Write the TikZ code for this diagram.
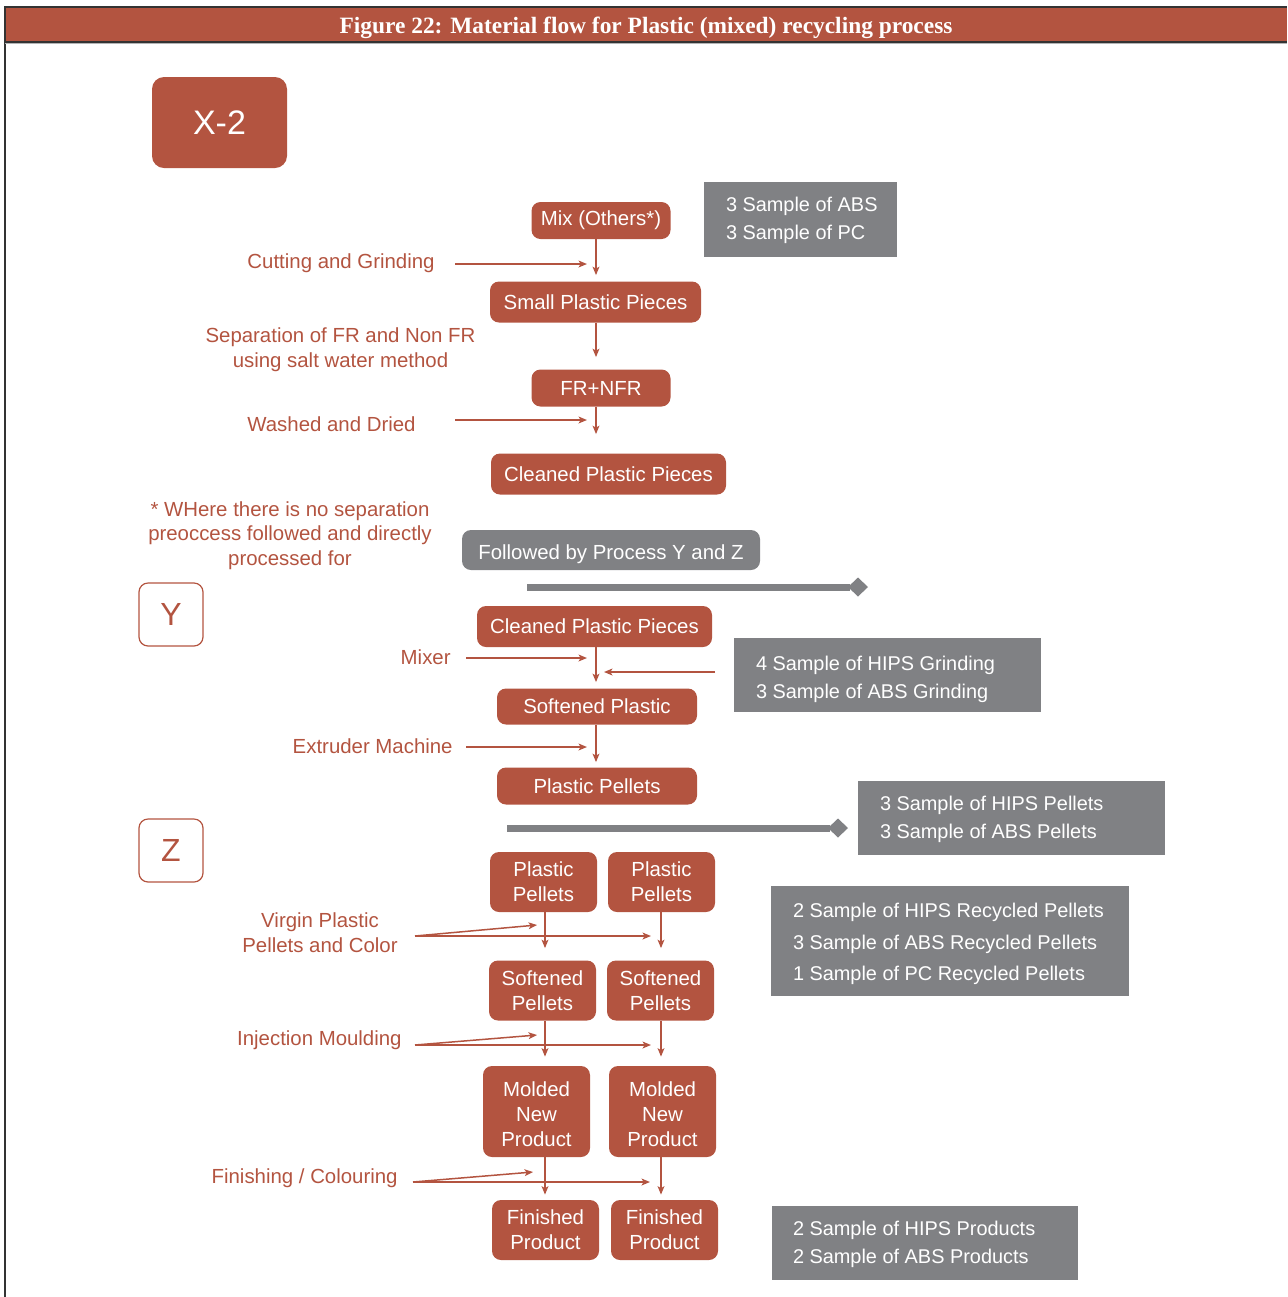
\documentclass[tikz,border=0pt]{standalone}
\usepackage{fontspec}
\setmainfont{Liberation Sans}
\newfontfamily\titlefont{Liberation Serif}
\usetikzlibrary{arrows.meta}
\definecolor{brick}{HTML}{B35440}
\definecolor{slate}{HTML}{808184}
\definecolor{framegray}{HTML}{333333}

\begin{document}
\begin{tikzpicture}[x=0.5pt,y=-0.5pt,
  every node/.style={font=\fontsize{10.2}{12.5}\selectfont, inner sep=0pt},
  sz/.style 2 args={minimum width=#1*0.5pt, minimum height=#2*0.5pt},
  stepbox/.style={fill=brick, text=white, rounded corners=4.5pt, align=center},
  samplebox/.style={fill=slate},
  sampletext/.style={text=white, align=left, anchor=west,
    font=\fontsize{9.95}{14}\selectfont},
  lbl/.style={text=brick, align=center},
  arr/.style={draw=brick, line width=0.75pt, -{Stealth[length=4.2pt,width=3.4pt,inset=1pt]}},
  bar/.style={draw=slate, line width=3.5pt},
  stage/.style={draw=brick, line width=0.6pt, rounded corners=4.5pt, text=brick,
    font=\fontsize{16}{18}\selectfont},
]
\useasboundingbox (0,0) rectangle (1287,1297);

% frame and title bar
\fill[brick] (5,7) rectangle (1287,42);
\draw[framegray, line width=1pt] (5,1297) -- (5,6.5) -- (1287,6.5);
\draw[framegray, line width=1pt] (5,41.5) -- (1287,41.5);
\draw[slate!60, line width=0.5pt] (5,43) -- (1287,43);
\node[text=white, font=\titlefont\bfseries\fontsize{11.7}{13}\selectfont] (title) at (646,27.5)
  {Figure 22: Material flow for Plastic (mixed) recycling process};

% stage marks
\node[fill=brick, text=white, rounded corners=6pt, sz={135}{91},
  font=\fontsize{17}{19}\selectfont] (x2) at (219.5,122.5) {X-2};
\node[stage, sz={64}{63}] (ystage) at (171,614.5) {Y};
\node[stage, sz={64}{63}] (zstage) at (171,850.5) {Z};

% columns
\coordinate (colA) at (596,0);
\coordinate (colL) at (545,0);
\coordinate (colR) at (661,0);

% ---- X-2 chain
\node[stepbox, sz={139}{37}] (mix) at (601,220.5) {Mix (Others*)};
\node[stepbox, sz={211}{41}] (small) at (595.5,302) {Small Plastic Pieces};
\node[stepbox, sz={139}{37}] (frnfr) at (601,388) {FR+NFR};
\node[stepbox, sz={235}{41}] (clean) at (608.5,474) {Cleaned Plastic Pieces};

\node[samplebox, sz={193}{75}] (s1) at (800.5,219.5) {};
\node[sampletext] (s1t) at ([xshift=11pt,yshift=-0.5pt]s1.west) {3 Sample of ABS\\3 Sample of PC};

\draw[arr, shorten >=3pt] (mix.south -| colA) -- (small.north -| colA);
\draw[arr, shorten >=6pt] (small.south -| colA) -- (frnfr.north -| colA);
\draw[arr, shorten >=9.5pt] (frnfr.south -| colA) -- (clean.north -| colA);

\node[lbl, anchor=east] (cut) at (435,263) {Cutting and Grinding};
\node[lbl] (sep) at (340.5,350) {Separation of FR and Non FR\\using salt water method};
\node[lbl, anchor=east] (wash) at (416,424.5) {Washed and Dried};
\coordinate (cutS) at (455,264);
\coordinate (washS) at (455,420);
\draw[arr, shorten >=4.5pt] (cutS) -- (cutS -| colA);
\draw[arr, shorten >=4.5pt] (washS) -- (washS -| colA);

\node[lbl, font=\fontsize{10.2}{12.25}\selectfont] (note) at (290,535.5)
  {* WHere there is no separation\\preoccess followed and directly\\processed for};

\node[fill=slate, rounded corners=4.5pt, sz={298}{40}] (follow) at (611,550) {};
\node[text=white] (followt) at ([yshift=-2pt]follow.center) {Followed by Process Y and Z};

% ---- Y chain
\draw[bar] (527,587) -- (850,587);
\fill[slate] (858,577.5) -- (868,587) -- (858,596.5) -- (848,587) -- cycle;

\node[stepbox, sz={235}{41}] (clean2) at (594.5,626.5) {Cleaned Plastic Pieces};
\node[stepbox, sz={200}{36}] (soft) at (597,706.5) {Softened Plastic};
\node[stepbox, sz={200}{37}] (pell) at (597,786) {Plastic Pellets};

\node[samplebox, sz={307}{74}] (s2) at (887.5,675) {};
\node[sampletext] (s2t) at ([xshift=11pt,yshift=-2pt]s2.west)
  {4 Sample of HIPS Grinding\\3 Sample of ABS Grinding};

\draw[arr, shorten >=3pt] (clean2.south -| colA) -- (soft.north -| colA);
\draw[arr, shorten >=2.5pt] (soft.south -| colA) -- (pell.north -| colA);

\node[lbl, anchor=east] (mixer) at (451,657.5) {Mixer};
\node[lbl, anchor=east] (extr) at (453,746.5) {Extruder Machine};
\coordinate (mixS) at (466,658);
\coordinate (extrS) at (466,747);
\coordinate (addS) at (715,672);
\draw[arr, shorten >=4.5pt] (mixS) -- (mixS -| colA);
\draw[arr, shorten >=4.5pt] (extrS) -- (extrS -| colA);
\draw[arr, shorten >=4pt] (addS) -- (addS -| colA);

% ---- Z chains
\node[samplebox, sz={307}{74}] (s3) at (1011.5,818) {};
\node[sampletext] (s3t) at ([xshift=11pt,yshift=-0.5pt]s3.west)
  {3 Sample of HIPS Pellets\\3 Sample of ABS Pellets};
\draw[bar] (507,828) -- (830,828);
\fill[slate] (838,818.5) -- (848,828) -- (838,837.5) -- (828,828) -- cycle;

\node[stepbox, sz={107}{60}] (pl) at (543.5,882) {Plastic\\Pellets};
\node[stepbox, sz={107}{60}] (pr) at (661.5,882) {Plastic\\Pellets};
\node[stepbox, sz={107}{60}] (sl) at (542.5,990.5) {Softened\\Pellets};
\node[stepbox, sz={107}{60}] (sr) at (660.5,990.5) {Softened\\Pellets};
\node[stepbox, sz={107}{91}] (ml) at (536.5,1111.5) {};
\node[stepbox] (mlt) at ([yshift=-1.5pt]ml.center) {Molded\\New\\Product};
\node[stepbox, sz={107}{91}] (mr) at (662.5,1111.5) {};
\node[stepbox] (mrt) at ([yshift=-1.5pt]mr.center) {Molded\\New\\Product};
\node[stepbox, sz={107}{60}] (fl) at (545.5,1230) {Finished\\Product};
\node[stepbox, sz={107}{60}] (fr) at (664.5,1230) {Finished\\Product};

\node[samplebox, sz={358}{110}] (s4) at (950,941) {};
\node[sampletext, font=\fontsize{9.95}{15.75}\selectfont] (s4t)
  at ([xshift=11pt,yshift=-1.5pt]s4.west)
  {2 Sample of HIPS Recycled Pellets\\3 Sample of ABS Recycled Pellets\\1 Sample of PC Recycled Pellets};
\node[samplebox, sz={306}{74}] (s5) at (925,1243) {};
\node[sampletext] (s5t) at ([xshift=10.5pt,yshift=-0.5pt]s5.west)
  {2 Sample of HIPS Products\\2 Sample of ABS Products};

\draw[arr, shorten >=6pt] (pl.south -| colL) -- (sl.north -| colL);
\draw[arr, shorten >=6pt] (pr.south -| colR) -- (sr.north -| colR);
\draw[arr, shorten >=4.5pt] (sl.south -| colL) -- (ml.north -| colL);
\draw[arr, shorten >=4.5pt] (sr.south -| colR) -- (mr.north -| colR);
\draw[arr, shorten >=2.5pt] (ml.south -| colL) -- (fl.north -| colL);
\draw[arr, shorten >=2.5pt] (mr.south -| colR) -- (fr.north -| colR);

\node[lbl] (virgin) at (320,933) {Virgin Plastic\\Pellets and Color};
\node[lbl, anchor=east] (inj) at (402,1040.5) {Injection Moulding};
\node[lbl, anchor=east] (fin) at (398,1178.5) {Finishing / Colouring};

\coordinate (virS) at (415,936);
\coordinate (virL) at (537,925);
\coordinate (injS) at (415,1045);
\coordinate (injL) at (537,1035);
\coordinate (finS) at (413,1182);
\coordinate (finL) at (533,1172);
\draw[arr] (virS) -- (virL);
\draw[arr, shorten >=5pt] (virS) -- (virS -| colR);
\draw[arr] (injS) -- (injL);
\draw[arr, shorten >=5pt] (injS) -- (injS -| colR);
\draw[arr] (finS) -- (finL);
\draw[arr, shorten >=5.5pt] (finS) -- (finS -| colR);
\end{tikzpicture}
\end{document}
